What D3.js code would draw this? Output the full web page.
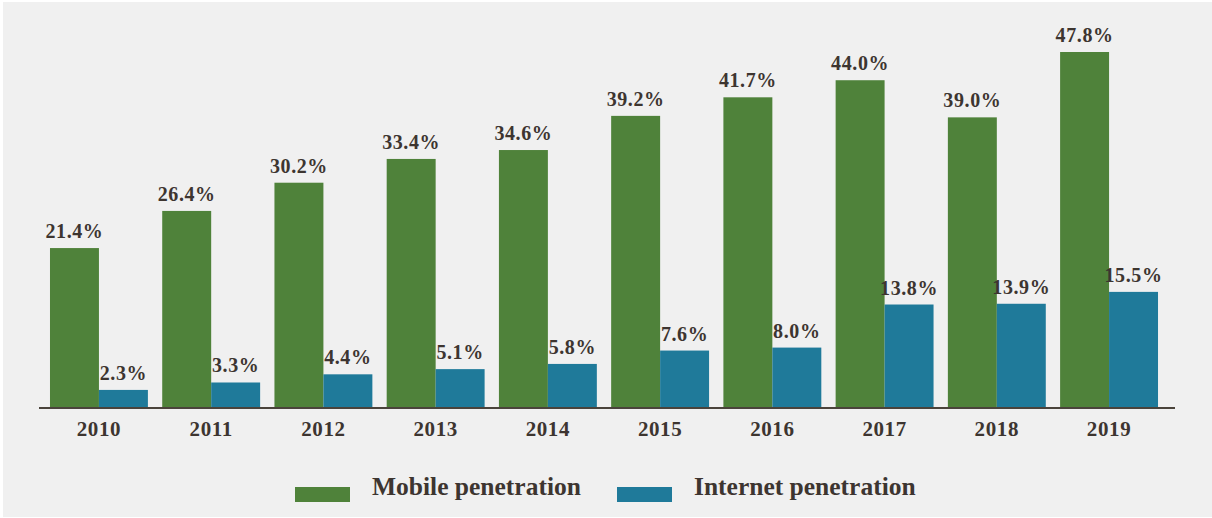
<!DOCTYPE html>
<html>
<head>
<meta charset="utf-8">
<script src="https://cdn.jsdelivr.net/npm/d3@7"></script>
<style>
  body { margin: 0; background: #fff; }
  text { font-family: "Liberation Serif", "DejaVu Serif", serif; font-weight: bold; fill: #3d3530; }
</style>
</head>
<body>
<div id="chart"></div>
<script>
// data
var years = ["2010", "2011", "2012", "2013", "2014", "2015", "2016", "2017", "2018", "2019"];
var mobile = [21.4, 26.4, 30.2, 33.4, 34.6, 39.2, 41.7, 44.0, 39.0, 47.8];
var internet = [2.3, 3.3, 4.4, 5.1, 5.8, 7.6, 8.0, 13.8, 13.9, 15.5];
var seriesNames = ["Mobile penetration", "Internet penetration"];
var colors = ["#4f823a", "#1f7a9a"];

var width = 1212, height = 518;
var baseY = 407;

var svg = d3.select("#chart").append("svg")
    .attr("width", width)
    .attr("height", height);

svg.append("rect")
    .attr("x", 3).attr("y", 2)
    .attr("width", width - 3).attr("height", height - 3)
    .attr("fill", "#f0f0f0");

var x = d3.scaleBand()
    .domain(years)
    .range([42.8, 1165.2])
    .paddingInner(0.1276)
    .paddingOuter(0.064);

var x1 = d3.scaleBand()
    .domain([0, 1])
    .range([0, x.bandwidth()]);

var y = d3.scaleLinear()
    .domain([0, 47.8])
    .range([baseY, 52]);

var rows = years.map(function(yr, i) {
  return {year: yr, values: [mobile[i], internet[i]]};
});

var groups = svg.selectAll("g.year")
    .data(rows)
  .enter().append("g")
    .attr("class", "year")
    .attr("transform", function(d) { return "translate(" + x(d.year) + ",0)"; });

groups.selectAll("rect")
    .data(function(d) { return d.values; })
  .enter().append("rect")
    .attr("x", function(d, i) { return x1(i); })
    .attr("width", x1.bandwidth())
    .attr("y", function(d) { return y(d); })
    .attr("height", function(d) { return baseY - y(d); })
    .attr("fill", function(d, i) { return colors[i]; });

groups.selectAll("text.val")
    .data(function(d) { return d.values; })
  .enter().append("text")
    .attr("class", "val")
    .attr("x", function(d, i) { return x1(i) + x1.bandwidth() / 2; })
    .attr("y", function(d) { return y(d) - 10; })
    .attr("text-anchor", "middle")
    .style("font-size", "20px")
    .style("letter-spacing", "0.6px")
    .text(function(d) { return d.toFixed(1) + "%"; });

// axis line + year labels
svg.append("line")
    .attr("x1", 39).attr("x2", 1175)
    .attr("y1", baseY + 1).attr("y2", baseY + 1)
    .attr("stroke", "#4a433b")
    .attr("stroke-width", 2.2);

svg.selectAll("text.yr")
    .data(years)
  .enter().append("text")
    .attr("class", "yr")
    .attr("x", function(d) { return x(d) + x.bandwidth() / 2; })
    .attr("y", 436)
    .attr("text-anchor", "middle")
    .style("font-size", "21px")
    .style("letter-spacing", "0.6px")
    .text(function(d) { return d; });

// legend
var legendX = [295, 617];
var legend = svg.selectAll("g.legend")
    .data(seriesNames)
  .enter().append("g")
    .attr("class", "legend")
    .attr("transform", function(d, i) { return "translate(" + legendX[i] + ",0)"; });

legend.append("rect")
    .attr("x", 0).attr("y", 487)
    .attr("width", 55).attr("height", 15)
    .attr("fill", function(d, i) { return colors[i]; });

legend.append("text")
    .attr("x", 77)
    .attr("y", 495)
    .style("font-size", "25.5px")
    .text(function(d) { return d; });
</script>
</body>
</html>
